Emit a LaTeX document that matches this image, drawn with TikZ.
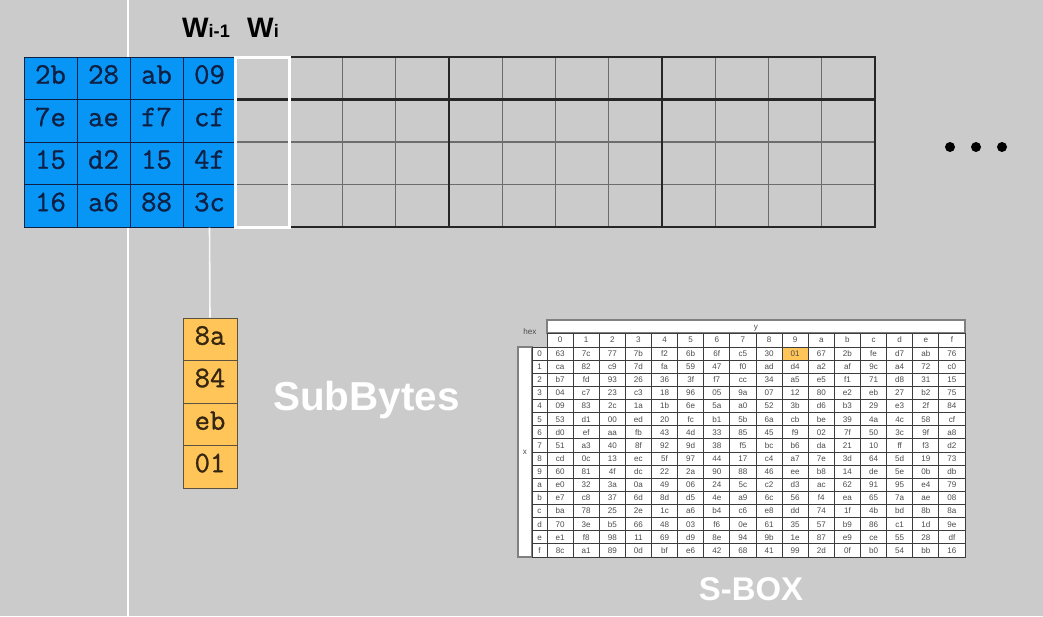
\documentclass[tikz,border=0pt]{standalone}
\usepackage{fontspec}
\newfontfamily\cellfont[FakeBold=1]{Latin Modern Mono}
\newfontfamily\labelfont{Liberation Sans}
\usetikzlibrary{positioning}

\definecolor{slidegray}{RGB}{203,203,203}
\definecolor{keyblue}{RGB}{8,150,246}
\definecolor{subyellow}{RGB}{255,197,88}
\definecolor{inkblue}{RGB}{14,32,68}
\definecolor{inkbrown}{RGB}{52,38,16}
\definecolor{gridline}{RGB}{60,60,60}
\newcommand\pxu{0.02cm}

\begin{document}
\begin{tikzpicture}[x=\pxu, y=-\pxu,
	keycell/.style = { rectangle, draw=inkblue, line width=1*\pxu, fill=keyblue,
	minimum width=53*\pxu, minimum height=42.5*\pxu, inner sep=0pt,
	text height=0.62em, text depth=0pt,
	text=inkblue, font=\cellfont\fontsize{17}{20}\selectfont },
	subcell/.style = { keycell, draw=inkbrown!80, fill=subyellow, text=inkbrown,
	minimum width=54*\pxu },
	wlabel/.style = { inner sep=0pt, font=\labelfont\bfseries\fontsize{16}{18}\selectfont },
	bigtext/.style = { inner sep=0pt, text=white,
	font=\labelfont\bfseries\fontsize{23}{27}\selectfont },
	gridthin/.style = { draw=gridline!75, line width=1.2*\pxu },
	gridthick/.style = { draw=black!85, line width=2.4*\pxu },
	sbcell/.style = { rectangle, draw=gridline, line width=1*\pxu, fill=white,
	minimum width=26.125*\pxu, minimum height=13.125*\pxu, inner sep=0pt,
	text height=3.3pt, text depth=0pt,
	text=black!70, font=\labelfont\fontsize{4.6}{5}\selectfont },
	sbbar/.style = { sbcell, draw=black!50, line width=1.4*\pxu } ]

  \useasboundingbox (0,0) rectangle (1043,616);
  \fill [slidegray] (0,0) rectangle (1043,616);
  \draw [white, line width=2*\pxu] (128,0) -- (128,616);

  % the words still to come
  \foreach \c in {1,...,11}
    \draw [gridthin] ({236+53.25*\c},57) -- ({236+53.25*\c},227);
  \foreach \y in {142,184.5}
    \draw [gridthin] (236,\y) -- (875,\y);
  \draw [gridthick] (236,99.5) -- (875,99.5);
  \draw [gridthick] (449,57) -- (449,227) (662,57) -- (662,227);
  \draw [gridthick] (236,57) rectangle (875,227);

  % the key, one word per column
  \foreach \col [count=\c] in {{2b,7e,15,16},{28,ae,d2,a6},{ab,f7,15,88},{09,cf,4f,3c}} {
    \foreach \v [count=\r] in \col {
      \node [name=k-\r-\c, keycell] at ({50.5+53*(\c-1)}, {78.25+42.5*(\r-1)}) { \v };
    }
  }

  \node [name=wi, rectangle, draw=white, line width=3*\pxu, inner sep=0pt,
	minimum width=53.25*\pxu, minimum height=170*\pxu] at (262.6,142) {};
  \node [name=wprev, wlabel, anchor=base] at (206,37)
	{ W{\fontsize{10.3}{12}\selectfont i-1} };
  \node [name=wcur, wlabel, anchor=base] at (263,37)
	{ W{\fontsize{10.3}{12}\selectfont i} };

  \foreach \v [count=\r] in {8a,84,eb,01}
    \node [name=s-\r, subcell] at (210, {339.25+42.5*(\r-1)}) { \v };
  \draw [white!88!slidegray, line width=1.6*\pxu] (k-4-4.south) -- (s-1.north);

  \node [name=subbytes, bigtext, anchor=base] at (366.5,410) { SubBytes };

  % S-box table
  \node [name=sbhead, sbbar, minimum width=418*\pxu, minimum height=13*\pxu]
	at (756,326.5) { y };
  \node [name=hex, inner sep=0pt, text=black!70,
	font=\labelfont\fontsize{4.6}{5}\selectfont] at (530,332) { hex };
  \node [name=sbside, sbbar, minimum width=14*\pxu, minimum height=210*\pxu]
	at (525,452) { x };
  \foreach \h [count=\i from 0] in {0,1,2,3,4,5,6,7,8,9,a,b,c,d,e,f} {
    \node [name=cx-\i, sbcell, minimum height=14*\pxu] at ({560.06+26.125*\i},340) { \h };
    \node [name=rx-\i, sbcell, minimum width=15*\pxu] at (539.5,{353.56+13.125*\i}) { \h };
  }
  \foreach \row [count=\r from 0] in {
	{63,7c,77,7b,f2,6b,6f,c5,30,01,67,2b,fe,d7,ab,76},
	{ca,82,c9,7d,fa,59,47,f0,ad,d4,a2,af,9c,a4,72,c0},
	{b7,fd,93,26,36,3f,f7,cc,34,a5,e5,f1,71,d8,31,15},
	{04,c7,23,c3,18,96,05,9a,07,12,80,e2,eb,27,b2,75},
	{09,83,2c,1a,1b,6e,5a,a0,52,3b,d6,b3,29,e3,2f,84},
	{53,d1,00,ed,20,fc,b1,5b,6a,cb,be,39,4a,4c,58,cf},
	{d0,ef,aa,fb,43,4d,33,85,45,f9,02,7f,50,3c,9f,a8},
	{51,a3,40,8f,92,9d,38,f5,bc,b6,da,21,10,ff,f3,d2},
	{cd,0c,13,ec,5f,97,44,17,c4,a7,7e,3d,64,5d,19,73},
	{60,81,4f,dc,22,2a,90,88,46,ee,b8,14,de,5e,0b,db},
	{e0,32,3a,0a,49,06,24,5c,c2,d3,ac,62,91,95,e4,79},
	{e7,c8,37,6d,8d,d5,4e,a9,6c,56,f4,ea,65,7a,ae,08},
	{ba,78,25,2e,1c,a6,b4,c6,e8,dd,74,1f,4b,bd,8b,8a},
	{70,3e,b5,66,48,03,f6,0e,61,35,57,b9,86,c1,1d,9e},
	{e1,f8,98,11,69,d9,8e,94,9b,1e,87,e9,ce,55,28,df},
	{8c,a1,89,0d,bf,e6,42,68,41,99,2d,0f,b0,54,bb,16}} {
    \foreach \v [count=\c from 0] in \row {
      \pgfmathtruncatemacro\hit{and(\r==0,\c==9)}
      \ifnum\hit=1 \def\cellbg{subyellow}\else \def\cellbg{white}\fi
      \node [name=sb-\r-\c, sbcell, fill=\cellbg]
	at ({560.06+26.125*\c},{353.56+13.125*\r}) { \v };
    }
  }
  \node [name=sboxlabel, bigtext, anchor=base,
	font=\labelfont\bfseries\fontsize{18.7}{22}\selectfont] at (751,600) { S-BOX };

  \foreach \x [count=\i] in {950,976,1002}
    \fill [black] (\x,147) circle [radius=5];
\end{tikzpicture}
\end{document}
